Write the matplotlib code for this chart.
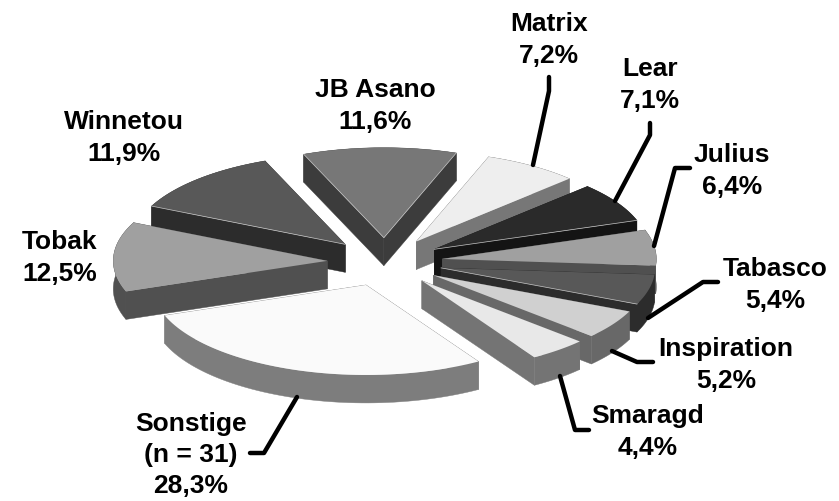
import numpy as np
import matplotlib
matplotlib.use('Agg')
import matplotlib.pyplot as plt
from matplotlib.patches import Polygon

# data, clockwise from JB Asano
names = ['JB Asano', 'Matrix', 'Lear', 'Julius', 'Tabasco', 'Inspiration',
         'Smaragd', 'Sonstige\n(n = 31)', 'Tobak', 'Winnetou']
shares = [11.6, 7.2, 7.1, 6.4, 5.4, 5.2, 4.4, 28.3, 12.5, 11.9]

top_colors = ['#777777', '#eeeeee', '#2a2a2a', '#a0a0a0', '#585858',
              '#d0d0d0', '#e8e8e8', '#fafafa', '#a0a0a0', '#585858']
wall_colors = ['#3c3c3c', '#777777', '#141414', '#505050', '#2c2c2c',
               '#686868', '#747474', '#7d7d7d', '#505050', '#2c2c2c']

# label centre in pixels
label_pos = [(375, 106), (549, 40), (650, 85), (732, 171), (775, 285),
             (726, 365), (648, 432), (191, 455), (60, 258), (124, 138)]

# leader lines in pixels
leaders = [
    [(549, 78), (549, 92), (533, 166)],
    [(650, 124), (650, 136), (615, 202)],
    [(690, 169), (675, 169), (654, 247)],
    [(718, 283), (703, 283), (648, 319)],
    [(653, 363), (637, 363), (612, 352)],
    [(589, 431), (575, 431), (560, 377)],
    [(250, 454), (264, 454), (297, 398)],
]

# pie geometry in pixels
CX, CY = 385, 263
RX, RY = 214, 90
DEPTH = 28
EXPLODE = 0.27
START = 112.0

plt.rcParams['font.family'] = ['Liberation Sans', 'DejaVu Sans']

fig = plt.figure(figsize=(8.39, 5.02), dpi=100)
ax = fig.add_axes([0, 0, 1, 1])
ax.set_xlim(0, 839)
ax.set_ylim(502, 0)
ax.axis('off')

ends = START - np.cumsum(shares) / sum(shares) * 360
starts = np.r_[START, ends[:-1]]
mids = np.radians((starts + ends) / 2)

# back slices first so the front ones cover their walls
for i in np.argsort(-np.sin(mids)):
    ax_x = CX + EXPLODE * RX * np.cos(mids[i])
    ax_y = CY - EXPLODE * RY * np.sin(mids[i])
    t = np.radians(np.linspace(starts[i], ends[i], 60))
    xs = ax_x + RX * np.cos(t)
    ys = ax_y - RY * np.sin(t)
    top = np.column_stack([np.r_[ax_x, xs], np.r_[ax_y, ys]])
    wall = dict(closed=True, fc=wall_colors[i], ec=wall_colors[i], lw=0.3)

    # two straight walls and the curved one
    apex = top[0]
    for edge in (top[1], top[-1]):
        quad = [apex, edge, edge + [0, DEPTH], apex + [0, DEPTH]]
        ax.add_patch(Polygon(quad, **wall))
    arc = top[1:]
    ax.add_patch(Polygon(np.vstack([arc, arc[::-1] + [0, DEPTH]]), **wall))

    ax.add_patch(Polygon(top, closed=True, fc=top_colors[i], ec='none'))
    # thin light rim where a dark top meets its wall
    if i == 0:
        ax.plot([xs[0], ax_x, xs[-1]], [ys[0], ax_y, ys[-1]], color='#c8c8c8', lw=0.5)
    elif i in (2, 4):
        ax.plot([ax_x, xs[-1]], [ax_y, ys[-1]], color='#c8c8c8', lw=0.5)
    elif i == 9:
        ax.plot([ax_x, xs[0]], [ax_y, ys[0]], color='#c8c8c8', lw=0.5)

for pts in leaders:
    px, py = zip(*pts)
    ax.plot(px, py, color='black', lw=3.2, solid_capstyle='round',
            solid_joinstyle='round', zorder=5)

for name, val, (lx, ly) in zip(names, shares, label_pos):
    txt = name + '\n' + f'{val:.1f}'.replace('.', ',') + '%'
    ax.text(lx, ly, txt, ha='center', va='center', fontsize=19, fontweight='bold',
            color='black', linespacing=1.38, zorder=6)

fig.savefig('out.png', dpi=100, facecolor='white')
